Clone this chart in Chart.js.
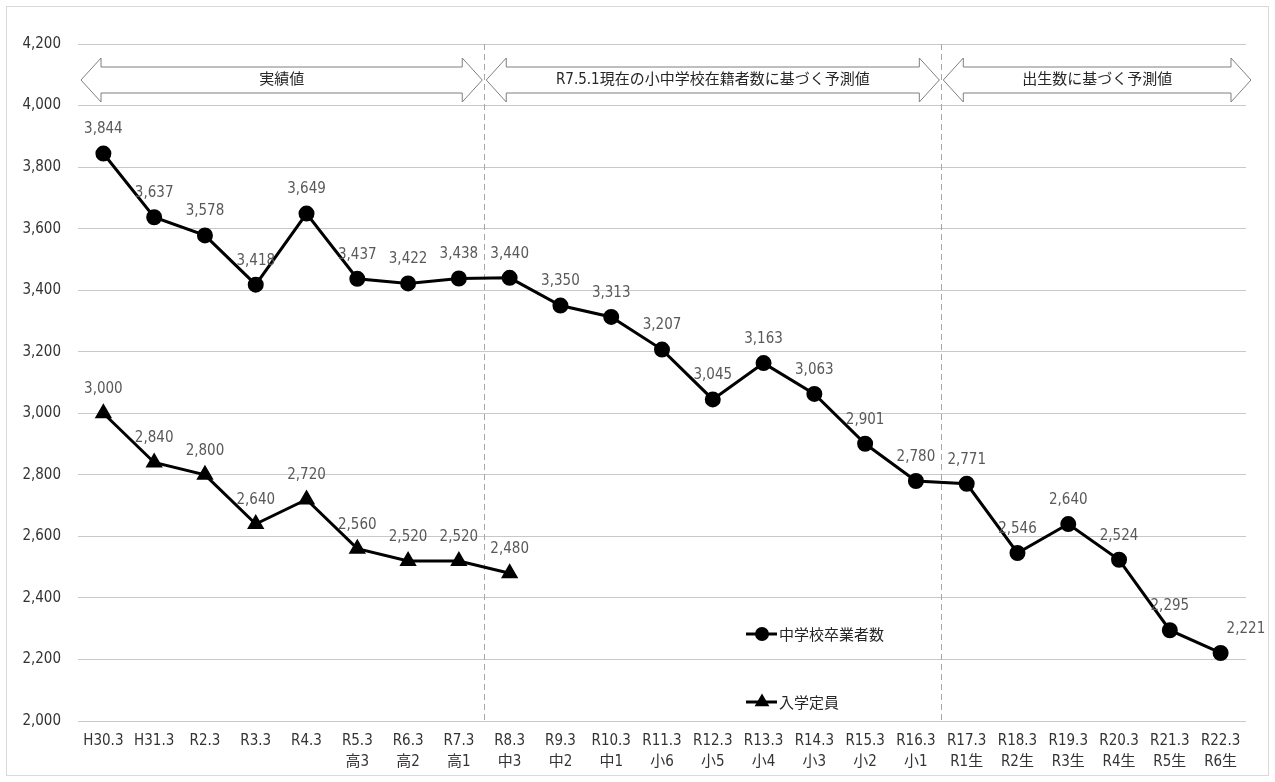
<!DOCTYPE html>
<html lang="ja">
<head>
<meta charset="utf-8">
<script src="https://cdn.jsdelivr.net/npm/chart.js@4.4.0/dist/chart.umd.min.js"></script>
<style>
html, body { margin: 0; padding: 0; background: #fff; }
canvas { display: block; }
</style>
</head>
<body>
<canvas id="myChart" width="1275" height="782"></canvas>
<script>
// 年度ラベル（上段）と学年ラベル（下段）
const years = ['H30.3', 'H31.3', 'R2.3', 'R3.3', 'R4.3', 'R5.3', 'R6.3', 'R7.3', 'R8.3', 'R9.3', 'R10.3', 'R11.3',
    'R12.3', 'R13.3', 'R14.3', 'R15.3', 'R16.3', 'R17.3', 'R18.3', 'R19.3', 'R20.3', 'R21.3', 'R22.3'];
const grades = ['', '', '', '', '', '高3', '高2', '高1', '中3', '中2', '中1', '小6',
    '小5', '小4', '小3', '小2', '小1', 'R1生', 'R2生', 'R3生', 'R4生', 'R5生', 'R6生'];

// 中学校卒業者数
const graduates = [3844, 3637, 3578, 3418, 3649, 3437, 3422, 3438, 3440, 3350, 3313, 3207,
    3045, 3163, 3063, 2901, 2780, 2771, 2546, 2640, 2524, 2295, 2221];
// 入学定員
const capacity = [3000, 2840, 2800, 2640, 2720, 2560, 2520, 2520, 2480];

const yTicks = { min: 2000, max: 4200, step: 200 };

// 区間（矢印）: 開始・終了のカテゴリ番号
const sections = [
    { text: '実績値', from: 0, to: 7 },
    { text: 'R7.5.1現在の小中学校在籍者数に基づく予測値', from: 8, to: 16 },
    { text: '出生数に基づく予測値', from: 17, to: 22 }
];

const FONT = "'Liberation Sans Narrow', 'DejaVu Sans Condensed', 'Noto Sans CJK JP', sans-serif";
const JP_FONT = "'Noto Sans CJK JP', sans-serif";

const fmt = v => v.toLocaleString('en-US');

const decor = {
    id: 'decor',
    beforeDraw(chart) {
        const ctx = chart.ctx;
        ctx.save();
        ctx.fillStyle = '#fff';
        ctx.fillRect(0, 0, chart.width, chart.height);
        ctx.strokeStyle = '#d9d9d9';
        ctx.lineWidth = 1;
        ctx.strokeRect(6.5, 6.5, chart.width - 13, chart.height - 13);
        ctx.restore();
    },
    beforeDatasetsDraw(chart) {
        const { ctx, chartArea: a, scales: { x } } = chart;
        const bounds = [];
        for (let i = 1; i < sections.length; i++) {
            bounds.push((x.getPixelForValue(sections[i - 1].to) + x.getPixelForValue(sections[i].from)) / 2);
        }
        ctx.save();
        // 区切りの破線
        ctx.strokeStyle = '#a6a6a6';
        ctx.lineWidth = 1;
        ctx.setLineDash([6, 4]);
        bounds.forEach(b => {
            ctx.beginPath();
            ctx.moveTo(Math.round(b) + 0.5, a.top);
            ctx.lineTo(Math.round(b) + 0.5, a.bottom);
            ctx.stroke();
        });
        ctx.setLineDash([]);

        // 両矢印
        const cy = a.top + 36, head = 20, hh = 22, sh = 13;
        sections.forEach((s, i) => {
            const l = i === 0 ? a.left + 3 : bounds[i - 1] + 2;
            const r = i === sections.length - 1 ? a.right + 5 : bounds[i] - 2;
            ctx.beginPath();
            ctx.moveTo(l, cy);
            ctx.lineTo(l + head, cy - hh);
            ctx.lineTo(l + head, cy - sh);
            ctx.lineTo(r - head, cy - sh);
            ctx.lineTo(r - head, cy - hh);
            ctx.lineTo(r, cy);
            ctx.lineTo(r - head, cy + hh);
            ctx.lineTo(r - head, cy + sh);
            ctx.lineTo(l + head, cy + sh);
            ctx.lineTo(l + head, cy + hh);
            ctx.closePath();
            ctx.fillStyle = '#fff';
            ctx.fill();
            ctx.strokeStyle = '#7f7f7f';
            ctx.lineWidth = 1;
            ctx.stroke();
            ctx.fillStyle = '#262626';
            ctx.font = '15px ' + FONT;
            ctx.textAlign = 'center';
            ctx.textBaseline = 'middle';
            ctx.fillText(s.text, (l + r) / 2, cy);
        });
        ctx.restore();
    },
    afterDatasetsDraw(chart) {
        const ctx = chart.ctx;
        ctx.save();
        ctx.font = '15px ' + FONT;
        ctx.fillStyle = '#595959';
        ctx.textBaseline = 'middle';
        chart.data.datasets.forEach((ds, di) => {
            const meta = chart.getDatasetMeta(di);
            meta.data.forEach((pt, i) => {
                const last = di === 0 && i === meta.data.length - 1;
                ctx.textAlign = last ? 'left' : 'center';
                ctx.fillText(fmt(ds.data[i]), pt.x + (last ? 6 : 0), pt.y - 24);
            });
        });

        // 凡例
        const a = chart.chartArea;
        const lx = a.left + 668;
        const rows = [a.bottom - 87, a.bottom - 19];
        chart.data.datasets.forEach((ds, di) => {
            const y = rows[di];
            ctx.strokeStyle = '#000';
            ctx.lineWidth = 3;
            ctx.beginPath();
            ctx.moveTo(lx, y);
            ctx.lineTo(lx + 31, y);
            ctx.stroke();
            ctx.fillStyle = '#000';
            Chart.helpers.drawPoint(ctx, { pointStyle: ds.pointStyle, radius: 5.5, rotation: 0, borderWidth: 1 }, lx + 16, y);
            ctx.fillStyle = '#262626';
            ctx.font = '15px ' + JP_FONT;
            ctx.textAlign = 'left';
            ctx.fillText(ds.label, lx + 33, y);
        });
        ctx.restore();
    }
};

const ctx = document.getElementById('myChart').getContext('2d');
new Chart(ctx, {
    type: 'line',
    data: {
        labels: years.map((y, i) => grades[i] ? [y, grades[i]] : y),
        datasets: [{
                label: '中学校卒業者数',
                data: graduates,
                borderColor: '#000',
                backgroundColor: '#000',
                borderWidth: 3,
                pointStyle: 'circle',
                pointRadius: 6.5,
                pointBackgroundColor: '#000',
                pointBorderColor: '#000',
                tension: 0
            },
            {
                label: '入学定員',
                data: capacity,
                borderColor: '#000',
                backgroundColor: '#000',
                borderWidth: 3,
                pointStyle: 'triangle',
                pointRadius: 7,
                pointBackgroundColor: '#000',
                pointBorderColor: '#000',
                tension: 0
            }
        ]
    },
    options: {
        responsive: false,
        animation: false,
        devicePixelRatio: 1,
        layout: { padding: { top: 44, right: 29, left: 0, bottom: 0 } },
        scales: {
            x: {
                offset: true,
                grid: { display: false, drawTicks: false },
                border: { display: false },
                ticks: {
                    autoSkip: false,
                    maxRotation: 0,
                    padding: 10,
                    color: '#333',
                    font: { family: FONT, size: 15, lineHeight: 1.4 }
                },
                afterFit: s => { s.height = 61; }
            },
            y: {
                min: yTicks.min,
                max: yTicks.max,
                grid: { color: '#c8c8c8', lineWidth: 1, drawTicks: false },
                border: { display: false },
                ticks: {
                    stepSize: yTicks.step,
                    padding: 17,
                    color: '#333',
                    font: { family: FONT, size: 15 },
                    callback: v => fmt(v)
                },
                afterFit: s => { s.width = 78; }
            }
        },
        plugins: {
            legend: { display: false },
            tooltip: { enabled: false }
        }
    },
    plugins: [decor]
});
</script>
</body>
</html>
